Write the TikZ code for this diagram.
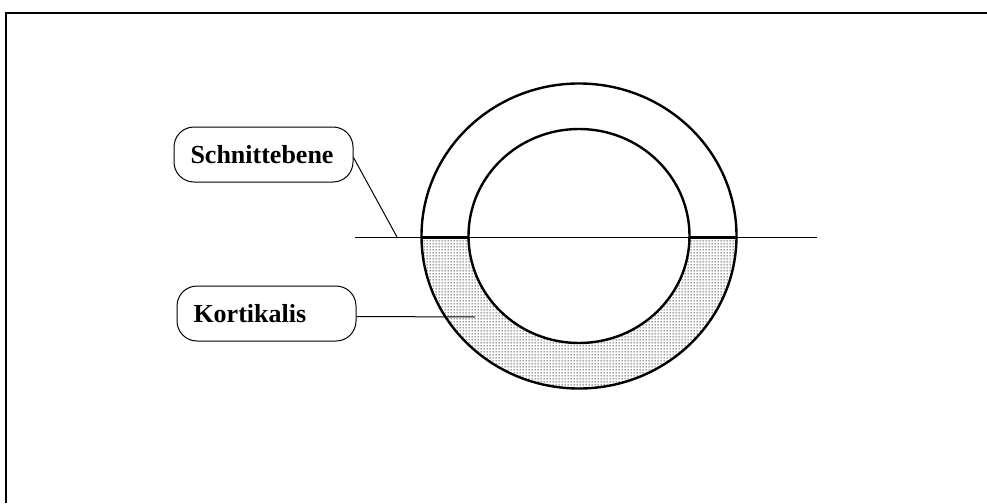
\documentclass[tikz,border=0pt]{standalone}
\usepackage{fontspec}
\setmainfont{Liberation Serif}
\usetikzlibrary{patterns}
% fine stipple of small square dots, 3pt apart
\pgfdeclarepatternformonly{stipple}{\pgfpointorigin}{\pgfpoint{3pt}{3pt}}{\pgfpoint{3pt}{3pt}}{%
  \pgfpathrectangle{\pgfpoint{0.9pt}{0.9pt}}{\pgfpoint{1.15pt}{1.15pt}}%
  \pgfusepath{fill}}
\begin{document}
\begin{tikzpicture}[x=1pt,y=-1pt,
  callout/.style={draw,line width=1pt,rounded corners=20pt,
    minimum width=179pt,minimum height=55pt,inner sep=0pt,
    text width=146pt,align=left,
    font=\fontsize{26}{28}\selectfont\bfseries},
  leader/.style={line width=1pt},
  wall/.style={line width=2.4pt},
  cutline/.style={line width=1pt},
  cutedge/.style={line width=3pt}]
  \useasboundingbox (0,0) rectangle (987,503);
  % frame: only the top and left edges are drawn
  \draw[line width=2pt] (987,13) -- (6,13) -- (6,503);

  % shaded lower half of the cortical ring
  \begin{scope}
    \clip (400,237) rectangle (760,400);
    \fill[pattern=stipple,pattern color=black!85,even odd rule]
      (579,236) ellipse [x radius=157.5,y radius=152.5]
      (579,236) ellipse [x radius=110.5,y radius=107];
  \end{scope}

  % bone cross-section: outer and inner contour
  \draw[wall] (579,236) ellipse [x radius=157.5,y radius=152.5];
  \draw[wall] (579,236) ellipse [x radius=110.5,y radius=107];

  % cutting plane
  \coordinate (cutL) at (355,237);
  \coordinate (cutR) at (817,237);
  \draw[cutline] (cutL) -- (cutR);
  \coordinate (ringLo) at (421.5,237);
  \coordinate (ringLi) at (468.5,237);
  \coordinate (ringRi) at (689.5,237);
  \coordinate (ringRo) at (736.5,237);
  \draw[cutedge] (ringLo) -- (ringLi);
  \draw[cutedge] (ringRi) -- (ringRo);

  % labels
  \node[callout] (schnitt) at (263.5,154.5) {Schnittebene};
  \node[callout] (kort) at (266.5,313.5) {Kortikalis};

  \coordinate (schnittTip) at (397,237);
  \coordinate (kortTip) at (475,317);
  \draw[leader] (schnitt.east) ++(0,3) -- (schnittTip);
  \draw[leader] (kort.east) ++(0,3) -- (kortTip);
\end{tikzpicture}
\end{document}
